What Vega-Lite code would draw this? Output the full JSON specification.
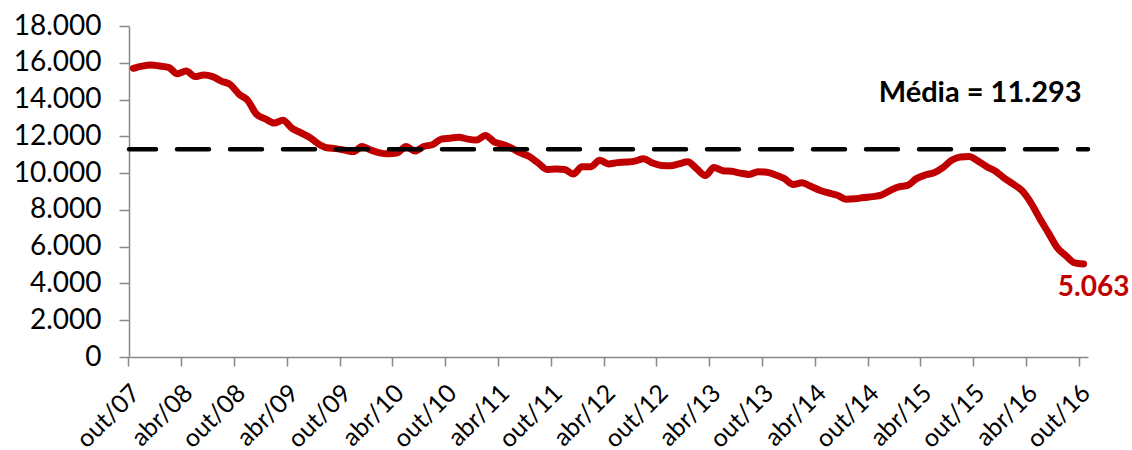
{
  "$schema": "https://vega.github.io/schema/vega-lite/v6.json",
  "width": 959,
  "height": 331,
  "autosize": {"type": "none"},
  "padding": {"left": 129, "top": 26, "right": 44, "bottom": 93},
  "config": {
    "view": {"stroke": null},
    "font": "Lato",
    "axis": {"labelFont": "Lato", "labelColor": "#000000", "domainColor": "#888888", "tickColor": "#888888", "domainWidth": 1.5, "tickWidth": 1.5, "grid": false, "title": null}
  },
  "datasets": {
    "serie": [
      {"mes": "out/07", "valor": 15700}, {"mes": "nov/07", "valor": 15820}, {"mes": "dez/07", "valor": 15880},
      {"mes": "jan/08", "valor": 15820}, {"mes": "fev/08", "valor": 15750}, {"mes": "mar/08", "valor": 15400},
      {"mes": "abr/08", "valor": 15550}, {"mes": "mai/08", "valor": 15250}, {"mes": "jun/08", "valor": 15330},
      {"mes": "jul/08", "valor": 15250}, {"mes": "ago/08", "valor": 15000}, {"mes": "set/08", "valor": 14820},
      {"mes": "out/08", "valor": 14300}, {"mes": "nov/08", "valor": 13950}, {"mes": "dez/08", "valor": 13200},
      {"mes": "jan/09", "valor": 12950}, {"mes": "fev/09", "valor": 12720}, {"mes": "mar/09", "valor": 12880},
      {"mes": "abr/09", "valor": 12450}, {"mes": "mai/09", "valor": 12200}, {"mes": "jun/09", "valor": 11950},
      {"mes": "jul/09", "valor": 11600}, {"mes": "ago/09", "valor": 11380}, {"mes": "set/09", "valor": 11330},
      {"mes": "out/09", "valor": 11250}, {"mes": "nov/09", "valor": 11170}, {"mes": "dez/09", "valor": 11450},
      {"mes": "jan/10", "valor": 11250}, {"mes": "fev/10", "valor": 11100}, {"mes": "mar/10", "valor": 11050},
      {"mes": "abr/10", "valor": 11100}, {"mes": "mai/10", "valor": 11450}, {"mes": "jun/10", "valor": 11200},
      {"mes": "jul/10", "valor": 11450}, {"mes": "ago/10", "valor": 11550}, {"mes": "set/10", "valor": 11850},
      {"mes": "out/10", "valor": 11900}, {"mes": "nov/10", "valor": 11950}, {"mes": "dez/10", "valor": 11850},
      {"mes": "jan/11", "valor": 11800}, {"mes": "fev/11", "valor": 12050}, {"mes": "mar/11", "valor": 11700},
      {"mes": "abr/11", "valor": 11550}, {"mes": "mai/11", "valor": 11350}, {"mes": "jun/11", "valor": 11100},
      {"mes": "jul/11", "valor": 10900}, {"mes": "ago/11", "valor": 10550}, {"mes": "set/11", "valor": 10200},
      {"mes": "out/11", "valor": 10220}, {"mes": "nov/11", "valor": 10200}, {"mes": "dez/11", "valor": 9950},
      {"mes": "jan/12", "valor": 10350}, {"mes": "fev/12", "valor": 10350}, {"mes": "mar/12", "valor": 10700},
      {"mes": "abr/12", "valor": 10500}, {"mes": "mai/12", "valor": 10570}, {"mes": "jun/12", "valor": 10600},
      {"mes": "jul/12", "valor": 10650}, {"mes": "ago/12", "valor": 10780}, {"mes": "set/12", "valor": 10550},
      {"mes": "out/12", "valor": 10420}, {"mes": "nov/12", "valor": 10400}, {"mes": "dez/12", "valor": 10500},
      {"mes": "jan/13", "valor": 10620}, {"mes": "fev/13", "valor": 10250}, {"mes": "mar/13", "valor": 9870},
      {"mes": "abr/13", "valor": 10300}, {"mes": "mai/13", "valor": 10130}, {"mes": "jun/13", "valor": 10100},
      {"mes": "jul/13", "valor": 10000}, {"mes": "ago/13", "valor": 9930}, {"mes": "set/13", "valor": 10080},
      {"mes": "out/13", "valor": 10050}, {"mes": "nov/13", "valor": 9900}, {"mes": "dez/13", "valor": 9700},
      {"mes": "jan/14", "valor": 9380}, {"mes": "fev/14", "valor": 9470}, {"mes": "mar/14", "valor": 9280},
      {"mes": "abr/14", "valor": 9070}, {"mes": "mai/14", "valor": 8920}, {"mes": "jun/14", "valor": 8800},
      {"mes": "jul/14", "valor": 8580}, {"mes": "ago/14", "valor": 8600}, {"mes": "set/14", "valor": 8670},
      {"mes": "out/14", "valor": 8720}, {"mes": "nov/14", "valor": 8800}, {"mes": "dez/14", "valor": 9050},
      {"mes": "jan/15", "valor": 9250}, {"mes": "fev/15", "valor": 9330}, {"mes": "mar/15", "valor": 9700},
      {"mes": "abr/15", "valor": 9900}, {"mes": "mai/15", "valor": 10020}, {"mes": "jun/15", "valor": 10300},
      {"mes": "jul/15", "valor": 10700}, {"mes": "ago/15", "valor": 10880}, {"mes": "set/15", "valor": 10900},
      {"mes": "out/15", "valor": 10650}, {"mes": "nov/15", "valor": 10350}, {"mes": "dez/15", "valor": 10100},
      {"mes": "jan/16", "valor": 9720}, {"mes": "fev/16", "valor": 9400}, {"mes": "mar/16", "valor": 9050},
      {"mes": "abr/16", "valor": 8400}, {"mes": "mai/16", "valor": 7550}, {"mes": "jun/16", "valor": 6750},
      {"mes": "jul/16", "valor": 5950}, {"mes": "ago/16", "valor": 5500}, {"mes": "set/16", "valor": 5120},
      {"mes": "out/16", "valor": 5063}
    ],
    "notas": [
      {"mes": "out/16", "valor": 14350, "texto": "Média = 11.293", "tipo": "media"},
      {"mes": "out/16", "valor": 3750, "texto": "5.063", "tipo": "ultimo"}
    ],
    "media": [{"valor": 11293}]
  },
  "layer": [
    {
      "data": {"name": "serie"},
      "mark": {"type": "line", "color": "#C00000", "strokeWidth": 7, "interpolate": "monotone", "strokeCap": "round", "strokeJoin": "round"},
      "encoding": {
        "x": {
          "field": "mes", "type": "ordinal", "sort": null,
          "scale": {"type": "band", "paddingInner": 0, "paddingOuter": 0},
          "axis": {
            "bandPosition": 0, "labelAngle": 315, "labelAlign": "right", "labelBaseline": "top",
            "labelOverlap": false, "labelBound": false, "labelFlush": false,
            "labelExpr": "(indexof(datum.value, 'out/') == 0 || indexof(datum.value, 'abr/') == 0) ? datum.value : ''",
            "tickOpacity": {"condition": {"test": "indexof(datum.value, 'out/') == 0 || indexof(datum.value, 'abr/') == 0", "value": 1}, "value": 0},
            "labelFontSize": 25, "tickSize": 9, "labelPadding": 14, "labelOffset": -6
          }
        },
        "y": {
          "field": "valor", "type": "quantitative",
          "scale": {"domain": [0, 18000], "nice": false},
          "axis": {
            "tickCount": 9,
            "format": ",.0f",
            "formatType": "number",
            "labelExpr": "replace(datum.label, ',', '.')",
            "labelOverlap": false, "labelBound": false, "labelFlush": false,
            "labelFontSize": 28, "tickSize": 10, "labelPadding": 18
          }
        }
      }
    },
    {
      "data": {"name": "media"},
      "mark": {"type": "rule", "color": "#000000", "strokeWidth": 4.5, "strokeDash": [32, 21], "strokeDashOffset": 22, "strokeCap": "round"},
      "encoding": {"y": {"field": "valor", "type": "quantitative"}}
    },
    {
      "data": {"name": "notas"},
      "transform": [{"filter": "datum.tipo == 'media'"}],
      "mark": {"type": "text", "align": "right", "baseline": "middle", "fontSize": 29, "fontWeight": "bold", "color": "#000000", "dx": -2},
      "encoding": {
        "x": {"field": "mes", "type": "ordinal", "sort": null},
        "y": {"field": "valor", "type": "quantitative"},
        "text": {"field": "texto"}
      }
    },
    {
      "data": {"name": "notas"},
      "transform": [{"filter": "datum.tipo == 'ultimo'"}],
      "mark": {"type": "text", "align": "center", "baseline": "middle", "fontSize": 28, "fontWeight": "bold", "color": "#C00000", "dx": 10},
      "encoding": {
        "x": {"field": "mes", "type": "ordinal", "sort": null},
        "y": {"field": "valor", "type": "quantitative"},
        "text": {"field": "texto"}
      }
    }
  ]
}
